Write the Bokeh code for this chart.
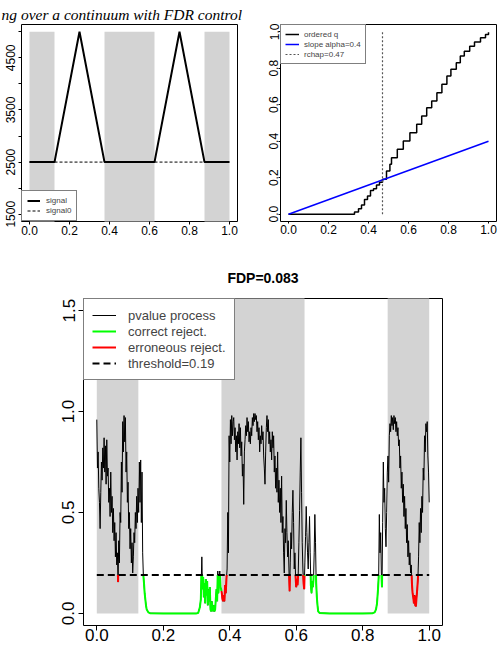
import numpy as np
from bokeh.plotting import figure
from bokeh.layouts import column, row
from bokeh.models import Range1d, FixedTicker, Legend, LegendItem, NumeralTickFormatter
from bokeh.core.properties import value
from bokeh.embed import file_html
from bokeh.resources import INLINE

SANS = "Liberation Sans"
SERIF = "Liberation Serif"

# ---------------- data ----------------
header_text = "ng over a continuum with FDR control"

null_left = [0.0, 0.375, 0.875]
null_right = [0.125, 0.625, 1.0]

signal_x = [0.0, 0.125, 0.25, 0.375, 0.625, 0.75, 0.875, 1.0]
signal_y = [2500, 2500, 5000, 2500, 2500, 5000, 2500, 2500]
signal0_level = 2500
signal_top = 5000
signal_y_ticks = [1500, 2000, 2500, 3000, 3500, 4000, 4500, 5000]
signal_y_labelled = [1500, 2500, 3500, 4500]
unit_ticks = [0.0, 0.2, 0.4, 0.6, 0.8, 1.0]

q_x = [0.0, 0.31, 0.33, 0.35, 0.365, 0.38, 0.395, 0.41, 0.425, 0.44, 0.455, 0.47,
       0.49, 0.507, 0.515, 0.544, 0.574, 0.607, 0.641, 0.666, 0.691, 0.716, 0.742,
       0.767, 0.792, 0.812, 0.839, 0.859, 0.879, 0.906, 0.930, 0.960, 0.985, 1.0]
q_y = [0.0, 0.0, 0.012, 0.03, 0.05, 0.08, 0.10, 0.13, 0.14, 0.16, 0.175, 0.192,
       0.237, 0.274, 0.31, 0.356, 0.402, 0.447, 0.493, 0.539, 0.584, 0.62, 0.666,
       0.712, 0.757, 0.794, 0.83, 0.867, 0.894, 0.921, 0.944, 0.967, 0.985, 0.998]
alpha_slope = 0.4
rchap = 0.47

pvalue_points = [
    (0.000, 0.96), (0.002, 0.72), (0.004, 0.80), (0.006, 0.62), (0.008, 0.55), (0.010, 0.42),
    (0.012, 0.60), (0.014, 0.75), (0.016, 0.66), (0.018, 0.82), (0.020, 0.72), (0.022, 0.87),
    (0.024, 0.70), (0.026, 0.83), (0.028, 0.64), (0.030, 0.86), (0.032, 0.68), (0.034, 0.72),
    (0.036, 0.55), (0.038, 0.62), (0.040, 0.48), (0.042, 0.70), (0.044, 0.50), (0.046, 0.58),
    (0.048, 0.40), (0.050, 0.52), (0.052, 0.36), (0.054, 0.45), (0.056, 0.28), (0.058, 0.40),
    (0.060, 0.24), (0.062, 0.30), (0.064, 0.155), (0.066, 0.36), (0.068, 0.25), (0.070, 0.50),
    (0.072, 0.45), (0.074, 0.75), (0.076, 0.60), (0.078, 0.95), (0.080, 0.80), (0.082, 0.98),
    (0.084, 0.85), (0.086, 0.97), (0.088, 0.70), (0.090, 0.80), (0.092, 0.55), (0.094, 0.65),
    (0.096, 0.42), (0.098, 0.50), (0.100, 0.32), (0.102, 0.42), (0.104, 0.25), (0.106, 0.35),
    (0.108, 0.20), (0.110, 0.28), (0.112, 0.40), (0.114, 0.35), (0.116, 0.50), (0.118, 0.42),
    (0.120, 0.58), (0.122, 0.45), (0.124, 0.62), (0.126, 0.50), (0.128, 0.75), (0.130, 0.55),
    (0.132, 0.76), (0.134, 0.45), (0.136, 0.70), (0.138, 0.30), (0.140, 0.19), (0.142, 0.15),
    (0.144, 0.10), (0.146, 0.07), (0.148, 0.04), (0.150, 0.02), (0.155, 0.005), (0.160, 0.001),
    (0.200, 0.0), (0.250, 0.0), (0.300, 0.0), (0.305, 0.002), (0.310, 0.03), (0.313, 0.07),
    (0.316, 0.28), (0.318, 0.12), (0.320, 0.18), (0.322, 0.08), (0.324, 0.15), (0.326, 0.05),
    (0.328, 0.17), (0.330, 0.09), (0.332, 0.16), (0.334, 0.04), (0.336, 0.12), (0.338, 0.06),
    (0.340, 0.13), (0.342, 0.02), (0.344, 0.01), (0.346, 0.06), (0.348, 0.03), (0.350, 0.01),
    (0.352, 0.04), (0.354, 0.01), (0.356, 0.02), (0.358, 0.07), (0.360, 0.12), (0.362, 0.06),
    (0.364, 0.21), (0.366, 0.10), (0.368, 0.16), (0.370, 0.21), (0.372, 0.13), (0.374, 0.12),
    (0.376, 0.10), (0.378, 0.07), (0.380, 0.06), (0.382, 0.09), (0.384, 0.06), (0.386, 0.14),
    (0.388, 0.10), (0.390, 0.17), (0.392, 0.22), (0.394, 0.50), (0.396, 0.30), (0.398, 0.88),
    (0.400, 0.75), (0.402, 0.96), (0.404, 0.84), (0.406, 0.98), (0.408, 0.88), (0.410, 0.95),
    (0.412, 0.97), (0.414, 0.86), (0.416, 0.92), (0.418, 0.80), (0.420, 0.88), (0.422, 0.76),
    (0.424, 0.90), (0.426, 0.84), (0.428, 0.94), (0.430, 0.82), (0.432, 0.92), (0.434, 0.78),
    (0.436, 0.85), (0.438, 0.68), (0.440, 0.74), (0.442, 0.54), (0.444, 0.80), (0.446, 0.86),
    (0.448, 0.93), (0.450, 0.88), (0.452, 0.97), (0.454, 0.90), (0.456, 0.95), (0.458, 0.85),
    (0.460, 0.90), (0.462, 0.84), (0.464, 0.92), (0.466, 0.88), (0.468, 0.97), (0.470, 0.93),
    (0.472, 0.99), (0.474, 0.95), (0.476, 0.99), (0.478, 0.96), (0.480, 0.98), (0.482, 0.90),
    (0.484, 0.95), (0.486, 0.86), (0.488, 0.92), (0.490, 0.80), (0.492, 0.88), (0.494, 0.84),
    (0.496, 0.93), (0.498, 0.86), (0.500, 0.90), (0.502, 0.78), (0.504, 0.72), (0.506, 0.64),
    (0.508, 0.80), (0.510, 0.92), (0.512, 0.98), (0.514, 0.90), (0.516, 0.96), (0.518, 0.84),
    (0.520, 0.90), (0.522, 0.80), (0.524, 0.86), (0.526, 0.76), (0.528, 0.90), (0.530, 0.82),
    (0.532, 0.88), (0.534, 0.70), (0.536, 0.78), (0.538, 0.62), (0.540, 0.72), (0.542, 0.60),
    (0.544, 0.80), (0.546, 0.55), (0.548, 0.66), (0.550, 0.50), (0.552, 0.62), (0.554, 0.45),
    (0.556, 0.68), (0.558, 0.40), (0.560, 0.48), (0.562, 0.30), (0.564, 0.20), (0.566, 0.42),
    (0.568, 0.35), (0.570, 0.56), (0.572, 0.40), (0.574, 0.28), (0.576, 0.36), (0.578, 0.22),
    (0.580, 0.11), (0.582, 0.25), (0.584, 0.40), (0.586, 0.32), (0.588, 0.50), (0.590, 0.61),
    (0.592, 0.45), (0.594, 0.22), (0.596, 0.30), (0.598, 0.18), (0.600, 0.13), (0.602, 0.17),
    (0.604, 0.14), (0.606, 0.20), (0.608, 0.35), (0.610, 0.51), (0.612, 0.70), (0.614, 0.87),
    (0.616, 0.60), (0.618, 0.35), (0.620, 0.22), (0.622, 0.15), (0.624, 0.12), (0.626, 0.25),
    (0.628, 0.38), (0.630, 0.53), (0.632, 0.40), (0.634, 0.30), (0.636, 0.22), (0.638, 0.35),
    (0.640, 0.48), (0.642, 0.30), (0.644, 0.14), (0.646, 0.10), (0.648, 0.16), (0.650, 0.13),
    (0.652, 0.17), (0.654, 0.30), (0.656, 0.49), (0.658, 0.35), (0.660, 0.15), (0.662, 0.08),
    (0.664, 0.04), (0.666, 0.01), (0.670, 0.002), (0.700, 0.0), (0.750, 0.0), (0.800, 0.0),
    (0.830, 0.001), (0.836, 0.005), (0.840, 0.02), (0.843, 0.05), (0.846, 0.12), (0.848, 0.18),
    (0.850, 0.49), (0.852, 0.30), (0.854, 0.40), (0.856, 0.20), (0.858, 0.13), (0.860, 0.45),
    (0.862, 0.75), (0.864, 0.55), (0.866, 0.62), (0.868, 0.42), (0.870, 0.33), (0.872, 0.50),
    (0.874, 0.70), (0.876, 0.78), (0.878, 0.65), (0.880, 0.88), (0.882, 0.94), (0.884, 0.90),
    (0.886, 0.98), (0.888, 0.93), (0.890, 0.97), (0.892, 0.91), (0.894, 0.98), (0.896, 0.94),
    (0.898, 0.97), (0.900, 0.90), (0.902, 0.95), (0.904, 0.88), (0.906, 0.92), (0.908, 0.83),
    (0.910, 0.86), (0.912, 0.72), (0.914, 0.78), (0.916, 0.62), (0.918, 0.70), (0.920, 0.55),
    (0.922, 0.64), (0.924, 0.48), (0.926, 0.58), (0.928, 0.42), (0.930, 0.52), (0.932, 0.35),
    (0.934, 0.44), (0.936, 0.28), (0.938, 0.36), (0.940, 0.24), (0.942, 0.30), (0.944, 0.20),
    (0.946, 0.24), (0.948, 0.15), (0.950, 0.10), (0.952, 0.08), (0.954, 0.05), (0.956, 0.09),
    (0.958, 0.04), (0.960, 0.035), (0.962, 0.08), (0.964, 0.12), (0.966, 0.17), (0.968, 0.28),
    (0.970, 0.45), (0.972, 0.35), (0.974, 0.52), (0.976, 0.40), (0.978, 0.58), (0.980, 0.50),
    (0.982, 0.72), (0.984, 0.66), (0.986, 0.88), (0.988, 0.80), (0.990, 0.94), (0.992, 0.90),
    (0.994, 0.95), (0.996, 0.78), (0.998, 0.70), (1.000, 0.55),
]
threshold = 0.19
fdp_title = "FDP=0.083"
p3_y_ticks = [0.0, 0.5, 1.0, 1.5]

GREY = "#D3D3D3"


# ---------------- helpers ----------------
def style(p, font_size, tick_out, sx, sy):
    p.outline_line_color = "black"
    p.outline_line_width = 1
    p.grid.visible = False
    p.background_fill_color = "white"
    p.border_fill_color = "white"
    for ax in p.axis:
        ax.axis_line_color = None
        ax.major_tick_line_color = "black"
        ax.major_tick_in = 0
        ax.major_tick_out = tick_out
        ax.minor_tick_line_color = None
        ax.major_label_text_font = SANS
        ax.major_label_text_font_size = font_size
        ax.major_label_text_color = "black"
    p.xaxis.major_label_standoff = sx
    p.yaxis.major_label_standoff = sy
    p.yaxis.major_label_orientation = "vertical"


def add_legend(p, items, location, font_size, glyph_w, row_h, padding, spacing, standoff):
    lg = Legend(items=[LegendItem(label=l, renderers=[r]) for l, r in items],
                location=location, label_text_font=SANS, label_text_font_size=font_size,
                glyph_width=glyph_w, glyph_height=row_h, label_height=row_h,
                padding=padding, spacing=spacing, margin=0, label_standoff=standoff,
                border_line_color="black", border_line_width=1,
                background_fill_color="white", background_fill_alpha=1.0)
    p.add_layout(lg)


def text_strip(h, txt, x, y, font, size, style_, align, baseline):
    f = figure(width=503, height=h, x_range=Range1d(0, 503), y_range=Range1d(h, 0),
               toolbar_location=None, output_backend="svg", x_axis_type=None, y_axis_type=None,
               min_border=0, title=None)
    f.outline_line_color = None
    f.grid.visible = False
    f.text(x=[x], y=[y], text=[txt], text_font=value(font), text_font_style=style_,
           text_font_size=size, text_align=align, text_baseline=baseline, text_color="black")
    return f


def reject_pieces(xs_in, ys_in, thr, lefts, rights):
    bounds = list(lefts) + list(rights)
    xs, ys = [xs_in[0]], [ys_in[0]]
    for i in range(len(xs_in) - 1):
        x0, y0, x1, y1 = xs_in[i], ys_in[i], xs_in[i + 1], ys_in[i + 1]
        cuts = []
        if (y0 - thr) * (y1 - thr) < 0:
            cuts.append((thr - y0) / (y1 - y0))
        for b in bounds:
            if x0 < b < x1:
                cuts.append((b - x0) / (x1 - x0))
        for t in sorted(cuts):
            xs.append(x0 + t * (x1 - x0))
            ys.append(y0 + t * (y1 - y0))
        xs.append(x1)
        ys.append(y1)
    pieces = {"green": ([], []), "red": ([], [])}
    cur, curcol = None, None
    for i in range(len(xs) - 1):
        xm = 0.5 * (xs[i] + xs[i + 1])
        ym = 0.5 * (ys[i] + ys[i + 1])
        col = None
        if ym <= thr:
            col = "red" if any(a <= xm <= b for a, b in zip(lefts, rights)) else "green"
        if col != curcol:
            if cur is not None:
                pieces[curcol][0].append(cur[0])
                pieces[curcol][1].append(cur[1])
            cur = [[xs[i]], [ys[i]]] if col else None
            curcol = col
        if col:
            cur[0].append(xs[i + 1])
            cur[1].append(ys[i + 1])
    if cur is not None:
        pieces[curcol][0].append(cur[0])
        pieces[curcol][1].append(cur[1])
    return pieces


# ---------------- header (title of the top row) ----------------
head = text_strip(23, header_text, 1, 14, SERIF, "15.5px", "italic", "left", "alphabetic")

# ---------------- top-left: signal ----------------
p1 = figure(width=251, height=227, x_range=Range1d(-0.04, 1.04), y_range=Range1d(1360, 5140),
            toolbar_location=None, output_backend="svg",
            min_border_left=21, min_border_right=14, min_border_top=1, min_border_bottom=29)
p1.quad(left=null_left, right=null_right, bottom=0, top=signal_top, color=GREY, line_color=None)
r_sig = p1.line(signal_x, signal_y, line_color="black", line_width=2)
r_sig0 = p1.line([signal_x[0], signal_x[-1]], [signal0_level, signal0_level],
                 line_color="black", line_width=1, line_dash="3 2")
style(p1, "12px", 3, 1, 3)
p1.xaxis.ticker = FixedTicker(ticks=unit_ticks)
p1.xaxis.formatter = NumeralTickFormatter(format="0.0")
p1.yaxis.ticker = FixedTicker(ticks=signal_y_ticks)
p1.yaxis.major_label_overrides = {t: ("" if t not in signal_y_labelled else str(t)) for t in signal_y_ticks}
add_legend(p1, [("signal", r_sig), ("signal0", r_sig0)], "bottom_left", "8px", 13, 9, 5, 1, 6)

# ---------------- top-right: ordered q ----------------
p2 = figure(width=252, height=227, x_range=Range1d(-0.04, 1.04), y_range=Range1d(-0.04, 1.04),
            toolbar_location=None, output_backend="svg",
            min_border_left=29, min_border_right=7, min_border_top=1, min_border_bottom=29)
r_q = p2.step(q_x, q_y, mode="after", line_color="black", line_width=1.5)
r_slope = p2.line([0, 1], [0, alpha_slope], line_color="#0000FF", line_width=1.5)
r_rchap = p2.line([rchap, rchap], [0, 1], line_color="#555555", line_width=1.2, line_dash="2 2")
style(p2, "12px", 2, 1, 0)
p2.xaxis.ticker = FixedTicker(ticks=unit_ticks)
p2.yaxis.ticker = FixedTicker(ticks=unit_ticks)
p2.xaxis.formatter = NumeralTickFormatter(format="0.0")
p2.yaxis.formatter = NumeralTickFormatter(format="0.0")
add_legend(p2, [("ordered q", r_q), ("slope alpha=0.4", r_slope), ("rchap=0.47", r_rchap)],
           "top_left", "8px", 14, 10, 4, 0, 5)

# ---------------- FDP title strip ----------------
fdp_strip = text_strip(47, fdp_title, 262.5, 27, SANS, "14px", "bold", "center", "middle")

# ---------------- bottom: p-value process ----------------
pv_x = [a for a, b in pvalue_points]
pv_y = [b for a, b in pvalue_points]
pieces = reject_pieces(pv_x, pv_y, threshold, null_left, null_right)

p3 = figure(width=503, height=348, x_range=Range1d(-0.04, 1.04), y_range=Range1d(-0.06, 1.56),
            toolbar_location=None, output_backend="svg",
            min_border_left=83, min_border_right=61, min_border_top=1, min_border_bottom=20)
p3.quad(left=null_left, right=null_right, bottom=0, top=2.0, color=GREY, line_color=None)
r_pv = p3.line(pv_x, pv_y, line_color="black", line_width=1)
r_green = p3.multi_line(pieces["green"][0], pieces["green"][1], line_color="#00FF00", line_width=2)
r_red = p3.multi_line(pieces["red"][0], pieces["red"][1], line_color="#FF0000", line_width=2)
r_thr = p3.line([0, 1], [threshold, threshold], line_color="black", line_width=2, line_dash="7 4")
style(p3, "17px", 5, -2, 4)
p3.xaxis.ticker = FixedTicker(ticks=unit_ticks)
p3.yaxis.ticker = FixedTicker(ticks=p3_y_ticks)
p3.xaxis.formatter = NumeralTickFormatter(format="0.0")
p3.yaxis.formatter = NumeralTickFormatter(format="0.0")
add_legend(p3, [("pvalue process", r_pv), ("correct reject.", r_green),
                ("erroneous reject.", r_red), ("threshold=0.19", r_thr)],
           "top_left", "13px", 24, 16, 8, 0, 12)

layout = column(head, row(p1, p2), fdp_strip, row(p3))
open("out.html", "w").write(file_html(layout, INLINE))
